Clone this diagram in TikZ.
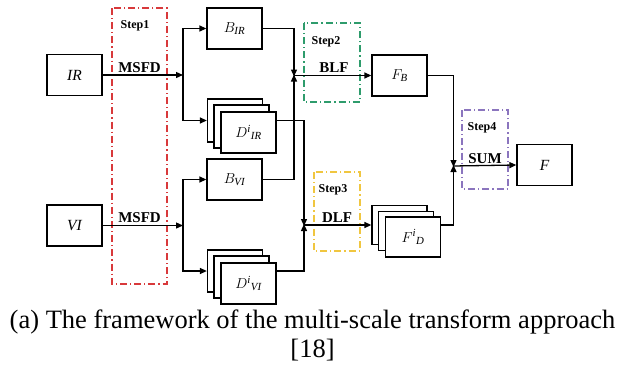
\documentclass[tikz,border=0pt]{standalone}
\usepackage{fontspec}
\usepackage{amsmath}
\setmainfont{Liberation Serif}
\usetikzlibrary{arrows.meta,calc}
\definecolor{sred}{HTML}{D8393B}
\definecolor{sgreen}{HTML}{2E9C6C}
\definecolor{syellow}{HTML}{F0C640}
\definecolor{spurple}{HTML}{8B75BE}
\newcommand{\ti}[1]{\textit{#1}}
\tikzset{
  box/.style={draw=black, line width=1.3pt, fill=white, minimum width=55pt, minimum height=41pt, inner sep=0pt, font=\fontsize{15.5}{15.5}\selectfont\itshape},
  stepframe/.style={line width=1.8pt, dash pattern=on 7pt off 3pt on 1.2pt off 3pt},
  steplbl/.style={font=\fontsize{12}{12}\selectfont\bfseries, inner sep=0pt},
  oplbl/.style={font=\fontsize{15}{15}\selectfont\bfseries, inner sep=0pt},
  arr/.style={draw=black, line width=1.3pt, -{Triangle[length=7pt,width=6pt]}},
  captxt/.style={inner sep=0pt, anchor=base, font=\fontsize{26.5}{26.5}\selectfont}
}
\begin{document}
\begin{tikzpicture}[x=1pt,y=-1pt]
\useasboundingbox[fill=white] (0,0) rectangle (620,372);
% step frames
\draw[stepframe, sred] (112,8) rectangle (167,284);
\draw[stepframe, sgreen] (304,23) rectangle (360,102);
\draw[stepframe, syellow] (314,172) rectangle (360,251);
\draw[stepframe, spurple] (462,110) rectangle (508,189);
% step labels
\node[steplbl] (s1) at (135,25.5) {Step1};
\node[steplbl] (s2) at (326,42) {Step2};
\node[steplbl] (s3) at (333,190) {Step3};
\node[steplbl] (s4) at (482,128) {Step4};
% boxes
\node[box] (ir) at (74.5,75) {IR};
\node[box] (vi) at (74.5,225.5) {VI};
\node[box] (bir) at (234.5,28.5) {$B_{\ti{IR}}$};
\node[box] (bvi) at (234.5,179.5) {$B_{\ti{VI}}$};
\node[box, minimum height=43pt] (dirb) at (235,120.5) {};
\node[box, minimum height=43pt] (dirm) at (241.5,126.5) {};
\node[box, minimum height=41pt] (dir) at (248.5,132.5) {$D^{\ti{i}}{}_{\ti{IR}}$};
\node[box, minimum height=42pt] (dvib) at (235,271) {};
\node[box, minimum height=42pt] (dvim) at (241.5,277) {};
\node[box, minimum height=41pt] (dvi) at (248.5,283.5) {$D^{\ti{i}}{}_{\ti{VI}}$};
\node[box] (fb) at (399.5,75.5) {$F_{\ti{B}}$};
\node[box, minimum height=39pt] (fdb) at (399.5,225) {};
\node[box, minimum height=39pt] (fdm) at (406,231) {};
\node[box, minimum height=40pt] (fd) at (413,237) {$F^{\ti{i}}{}_{\ti{D}}$};
\node[box] (f) at (544.5,165) {F};
% junctions
\coordinate (ja) at (183,75);
\coordinate (jb) at (183,225.5);
\coordinate (j1) at (294,75.5);
\coordinate (j2) at (304,225);
\coordinate (j3) at (453.5,166);
% connectors step 1
\draw[arr] (ir.east) -- (ja);
\draw[arr] (vi.east) -- (jb);
\draw[arr] (ja) |- (bir.west);
\draw[arr] (ja) |- (dirb.west);
\draw[arr] (jb) |- (bvi.west);
\draw[arr] (jb) |- (dvib.west);
\node[oplbl, anchor=south] (msfd1) at (139.5,72.5) {MSFD};
\node[oplbl, anchor=south] (msfd2) at (139.5,223) {MSFD};
% step 2
\draw[arr] (bir.east) -| ([yshift=-1pt]j1);
\draw[arr] (bvi.east) -| ([yshift=1pt]j1);
\draw[arr] (j1) -- (fb.west);
\node[oplbl, anchor=south] (blf) at (334,73) {BLF};
% step 3
\draw[arr] (dir.east |- dirb.west) -| ([yshift=-1pt]j2);
\draw[arr] (dvi.east |- dvib.west) -| ([yshift=1pt]j2);
\draw[arr] (j2) -- (fdb.west);
\node[oplbl, anchor=south] (dlf) at (337,223) {DLF};
% step 4
\draw[arr] (fb.east) -| ([yshift=-1pt]j3);
\draw[arr] (fd.east |- fdb.west) -| ([yshift=1pt]j3);
\draw[arr] (j3) -- (f.west);
\node[oplbl, anchor=south] (sum) at (485,163.5) {SUM};
% caption
\node[captxt] (cap1) at (312.5,328) {(a) The framework of the multi-scale transform approach};
\node[captxt] (cap2) at (312.5,357) {[18]};
\end{tikzpicture}
\end{document}
